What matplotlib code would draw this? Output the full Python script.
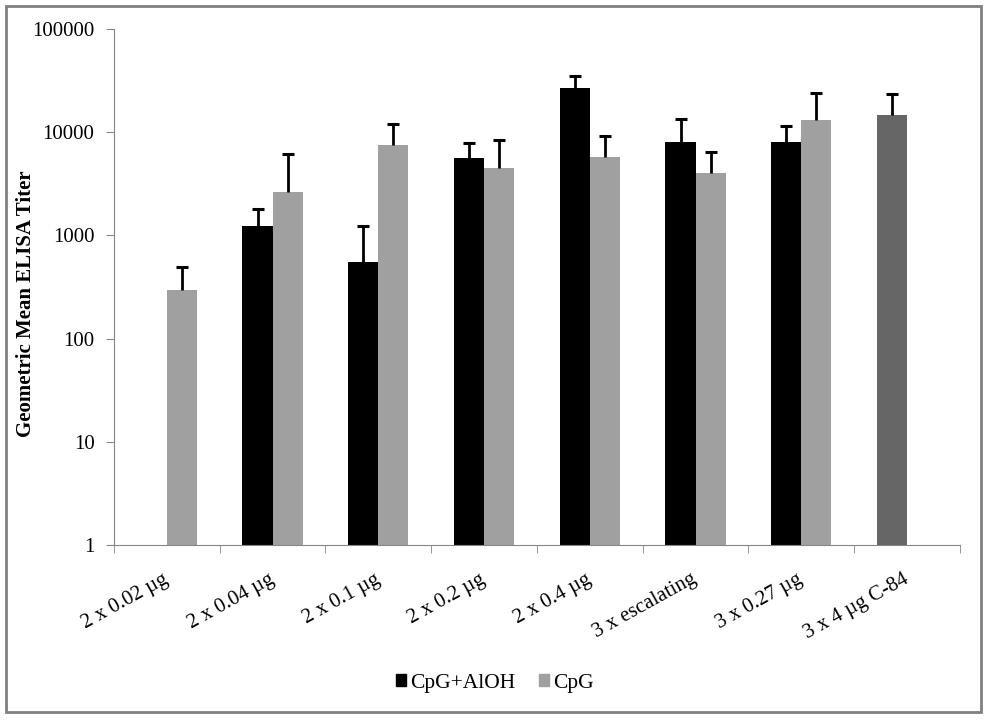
import matplotlib.pyplot as plt
import numpy as np
from matplotlib.patches import Rectangle
from matplotlib.ticker import FixedLocator, NullLocator

plt.rcParams['font.family'] = ['Liberation Serif', 'DejaVu Serif']

categories = ['2 x 0.02 µg', '2 x 0.04 µg', '2 x 0.1 µg', '2 x 0.2 µg',
              '2 x 0.4 µg', '3 x escalating', '3 x 0.27 µg', '3 x 4 µg C-84']
alum = [np.nan, 1230, 553, 5610, 26700, 8020, 8020, 14660]
alum_err = [np.nan, 1800, 1244, 7910, 34700, 13500, 11460, 23200]
cpg = [294, 2630, 7500, 4500, 5740, 4020, 13100, np.nan]
cpg_err = [499, 6190, 12080, 8460, 9250, 6470, 24100, np.nan]

fig = plt.figure(figsize=(9.86, 7.22), dpi=100)
ax = fig.add_axes([0.1156, 0.2452, 0.858, 0.7146])

x = np.arange(len(categories))
w = 0.285
alum_colors = ['black'] * 7 + ['#666666']

ax.set_yscale('log')
ax.bar(x - w / 2, alum, w, color=alum_colors, label='CpG+AlOH', zorder=2)
ax.bar(x + w / 2, cpg, w, color='#A0A0A0', label='CpG', zorder=2)

# upper error bars only, cap on top
for xs, vals, tops in [(x - w / 2, alum, alum_err), (x + w / 2, cpg, cpg_err)]:
    ax.vlines(xs, vals, tops, color='black', linewidth=2, zorder=3)
    ax.plot(xs, tops, linestyle='none', marker='_', markersize=8,
            markeredgewidth=2.2, color='black', zorder=3)

ax.set_ylim(1, 100000)
ax.set_xlim(-0.5, len(categories) - 0.5)
ax.yaxis.set_major_locator(FixedLocator([1, 10, 100, 1000, 10000, 100000]))
ax.yaxis.set_minor_locator(NullLocator())
ax.set_yticklabels(['1', '10', '100', '1000', '10000', '100000'], fontsize=15)

ax.set_xticks(x)
ax.set_xticklabels(categories, rotation=29, ha='right', va='center',
                   rotation_mode='anchor', fontsize=15)
ax.tick_params(axis='x', length=0, pad=24)
ax.set_xticks(np.arange(len(categories) + 1) - 0.5, minor=True)
ax.tick_params(axis='x', which='minor', length=6, color='#868686')
ax.tick_params(axis='y', length=6, color='#868686', pad=8)

for s in ['top', 'right']:
    ax.spines[s].set_visible(False)
for s in ['left', 'bottom']:
    ax.spines[s].set_color('#868686')

ax.set_ylabel('Geometric Mean ELISA Titer', fontsize=15, fontweight='bold')
ax.yaxis.set_label_coords(-0.092, 0.467)

handles = [Rectangle((0, 0), 1, 1, color='black'), Rectangle((0, 0), 1, 1, color='#A0A0A0')]
fig.legend(handles, ['CpG+AlOH', 'CpG'], loc='center', bbox_to_anchor=(0.502, 0.054),
           ncol=2, frameon=False, fontsize=15.5, handlelength=0.45, handleheight=0.45,
           handletextpad=0.2, columnspacing=1.1)

fig.patches.append(Rectangle((0.006, 0.014), 0.989, 0.977, transform=fig.transFigure,
                             fill=False, edgecolor='#808080', linewidth=2))

fig.savefig('out.png', dpi=100)
